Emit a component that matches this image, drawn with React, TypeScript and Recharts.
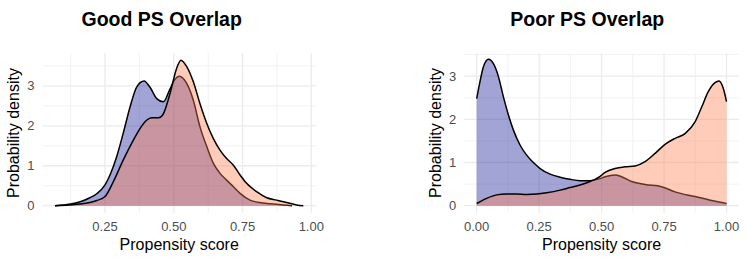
import React from 'react';
import { AreaChart, Area, XAxis, YAxis, CartesianGrid } from 'recharts';

// ---------- data: Good PS overlap ----------
const goodControlX = [0.068, 0.1, 0.125, 0.16, 0.195, 0.22, 0.25, 0.27, 0.292, 0.316, 0.341, 0.365, 0.392, 0.413, 0.438, 0.462, 0.486, 0.503, 0.52, 0.547, 0.571, 0.595, 0.62, 0.644, 0.668, 0.692, 0.716, 0.741, 0.777, 0.813, 0.85, 0.898, 0.93];
const goodControlY = [0, 0.02, 0.04, 0.1, 0.2, 0.3, 0.52, 0.8, 1.22, 1.81, 2.47, 2.97, 3.12, 2.97, 2.68, 2.6, 2.92, 3.15, 3.24, 3.06, 2.64, 1.98, 1.48, 1.06, 0.81, 0.64, 0.48, 0.31, 0.14, 0.08, 0.05, 0.02, 0];
const goodTreatedX = [0.068, 0.12, 0.16, 0.195, 0.22, 0.25, 0.28, 0.316, 0.353, 0.377, 0.401, 0.42, 0.445, 0.462, 0.486, 0.51, 0.526, 0.547, 0.571, 0.595, 0.62, 0.644, 0.668, 0.692, 0.716, 0.741, 0.765, 0.801, 0.838, 0.874, 0.91, 0.947, 0.971];
const goodTreatedY = [0, 0.02, 0.04, 0.08, 0.13, 0.23, 0.6, 1.14, 1.64, 1.93, 2.14, 2.2, 2.2, 2.3, 2.8, 3.43, 3.64, 3.48, 3.1, 2.56, 2.06, 1.68, 1.39, 1.18, 1.02, 0.77, 0.56, 0.35, 0.2, 0.14, 0.08, 0.02, 0];

// ---------- data: Poor PS overlap ----------
const poorControlX = [0, 0.013, 0.027, 0.047, 0.067, 0.087, 0.107, 0.127, 0.147, 0.174, 0.2, 0.227, 0.254, 0.294, 0.334, 0.374, 0.414, 0.454, 0.49, 0.514, 0.554, 0.58, 0.62, 0.674, 0.74, 0.794, 0.874, 0.94, 1.0];
const poorControlY = [2.48, 2.87, 3.22, 3.39, 3.29, 2.99, 2.52, 2.1, 1.75, 1.4, 1.17, 1.0, 0.86, 0.73, 0.66, 0.61, 0.58, 0.58, 0.62, 0.67, 0.71, 0.67, 0.56, 0.49, 0.44, 0.32, 0.21, 0.12, 0.05];
const poorTreatedX = [0, 0.04, 0.08, 0.12, 0.16, 0.2, 0.24, 0.28, 0.334, 0.374, 0.414, 0.454, 0.474, 0.494, 0.514, 0.554, 0.594, 0.634, 0.674, 0.714, 0.754, 0.794, 0.834, 0.874, 0.901, 0.927, 0.954, 0.97, 0.987, 1.0];
const poorTreatedY = [0.05, 0.17, 0.25, 0.27, 0.27, 0.26, 0.27, 0.3, 0.36, 0.42, 0.48, 0.56, 0.61, 0.68, 0.77, 0.86, 0.9, 0.92, 1.02, 1.21, 1.42, 1.56, 1.67, 1.94, 2.29, 2.64, 2.85, 2.89, 2.72, 2.41];

// ---------- ticks ----------
const goodXTicks = [0.25, 0.5, 0.75, 1.0];
const goodXMinor = [0.125, 0.375, 0.625, 0.875];
const poorXTicks = [0, 0.25, 0.5, 0.75, 1.0];
const poorXMinor = [0.125, 0.375, 0.625, 0.875];
const yTicks = [0, 1, 2, 3];
const yMinor = [0.5, 1.5, 2.5, 3.5];

const FONT = '"Liberation Sans", Arial, Helvetica, sans-serif';

function merge(ax: number[], ay: number[], bx: number[], by: number[]) {
  const map = new Map<number, { x: number; control?: number; treated?: number }>();
  ax.forEach((x, i) => {
    const r = map.get(x) || { x };
    r.control = ay[i];
    map.set(x, r);
  });
  bx.forEach((x, i) => {
    const r = map.get(x) || { x };
    r.treated = by[i];
    map.set(x, r);
  });
  return Array.from(map.values()).sort((a, b) => a.x - b.x);
}

const goodData = merge(goodControlX, goodControlY, goodTreatedX, goodTreatedY);
const poorData = merge(poorControlX, poorControlY, poorTreatedX, poorTreatedY);

function makeGen(values: number[], axisKey: 'xAxis' | 'yAxis', domain: number[]) {
  return (props: any) => {
    const axis = props[axisKey];
    const s = axis && axis.scale;
    if (typeof s === 'function') return values.map((v) => s(v));
    const o = props.offset;
    if (axisKey === 'xAxis') {
      return values.map((v) => o.left + ((v - domain[0]) / (domain[1] - domain[0])) * o.width);
    }
    return values.map((v) => o.top + o.height - ((v - domain[0]) / (domain[1] - domain[0])) * o.height);
  };
}

type PanelProps = {
  data: any[];
  xDomain: number[];
  yDomain: number[];
  xTicks: number[];
  xMinor: number[];
  width: number;
  margin: { top: number; right: number; bottom: number; left: number };
};

function Panel({ data, xDomain, yDomain, xTicks, xMinor, width, margin }: PanelProps) {
  const tickStyle = { fill: '#4d4d4d', fontSize: 13, fontFamily: FONT };
  return (
    <AreaChart width={width} height={261} data={data} margin={margin}>
      <CartesianGrid
        stroke="#f1f1f1"
        strokeWidth={0.9}
        verticalCoordinatesGenerator={makeGen(xMinor, 'xAxis', xDomain)}
        horizontalCoordinatesGenerator={makeGen(yMinor, 'yAxis', yDomain)}
      />
      <CartesianGrid
        stroke="#ebebeb"
        strokeWidth={1.3}
        verticalCoordinatesGenerator={makeGen(xTicks, 'xAxis', xDomain)}
        horizontalCoordinatesGenerator={makeGen(yTicks, 'yAxis', yDomain)}
      />
      <XAxis
        type="number"
        dataKey="x"
        domain={xDomain}
        ticks={xTicks}
        interval={0}
        allowDataOverflow
        tickFormatter={(v: number) => v.toFixed(2)}
        axisLine={false}
        tickLine={false}
        tickSize={0}
        tickMargin={9}
        height={30}
        tick={tickStyle}
      />
      <YAxis
        type="number"
        domain={yDomain}
        ticks={yTicks}
        interval={0}
        allowDataOverflow
        axisLine={false}
        tickLine={false}
        tickSize={0}
        tickMargin={8}
        width={40}
        tick={tickStyle}
      />
      <Area
        type="monotone"
        dataKey="control"
        connectNulls
        baseValue={0}
        stroke="#000000"
        strokeWidth={1.5}
        fill="#1a1c99"
        fillOpacity={0.4}
        dot={false}
        activeDot={false}
        isAnimationActive={false}
      />
      <Area
        type="monotone"
        dataKey="treated"
        connectNulls
        baseValue={0}
        stroke="#000000"
        strokeWidth={1.5}
        fill="#FF7F50"
        fillOpacity={0.4}
        dot={false}
        activeDot={false}
        isAnimationActive={false}
      />
    </AreaChart>
  );
}

export default function App() {
  return (
    <div style={{ position: 'absolute', left: 0, top: 0, width: 747, height: 261, background: '#ffffff', overflow: 'hidden' }}>
      <div style={{ position: 'absolute', left: 0, top: 0 }}>
        <Panel
          data={goodData}
          xDomain={[0.023, 1.016]}
          yDomain={[-0.1825, 3.8225]}
          xTicks={goodXTicks}
          xMinor={goodXMinor}
          width={373}
          margin={{ top: 53, right: 57.3, bottom: 18, left: 2.6 }}
        />
      </div>
      <div style={{ position: 'absolute', left: 373, top: 0 }}>
        <Panel
          data={poorData}
          xDomain={[-0.05, 1.05]}
          yDomain={[-0.17, 3.53]}
          xTicks={poorXTicks}
          xMinor={poorXMinor}
          width={374}
          margin={{ top: 53.3, right: 8, bottom: 18, left: 51.2 }}
        />
      </div>
      <svg width={747} height={261} style={{ position: 'absolute', left: 0, top: 0, pointerEvents: 'none' }}>
        <g fontFamily={FONT}>
          <text x={161.7} y={26} textAnchor="middle" fontSize={19.5} fontWeight="bold" fill="#000">Good PS Overlap</text>
          <text x={587.2} y={26} textAnchor="middle" fontSize={19.5} fontWeight="bold" fill="#000">Poor PS Overlap</text>
          <text x={179.2} y={249.5} textAnchor="middle" fontSize={16} fill="#000">Propensity score</text>
          <text x={601.6} y={249.5} textAnchor="middle" fontSize={16} fill="#000">Propensity score</text>
          <text x={19} y={133} textAnchor="middle" fontSize={16} fill="#000" transform="rotate(-90 19 133)">Probability density</text>
          <text x={441.4} y={133} textAnchor="middle" fontSize={16} fill="#000" transform="rotate(-90 441.4 133)">Probability density</text>
        </g>
      </svg>
    </div>
  );
}
